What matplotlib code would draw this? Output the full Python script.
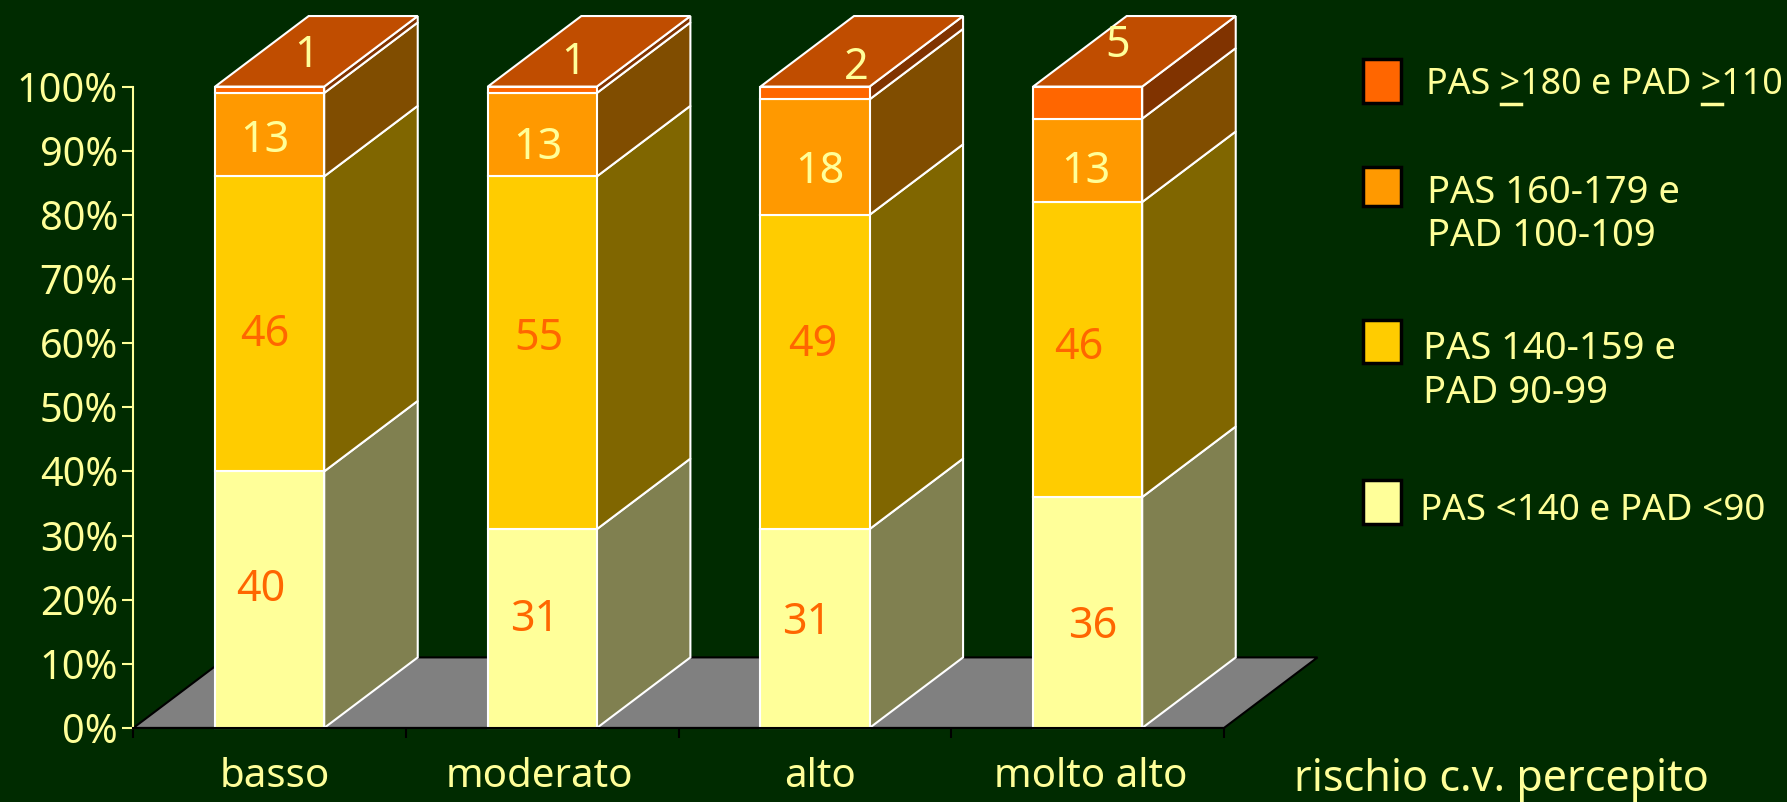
import matplotlib
matplotlib.use("Agg")
import matplotlib.pyplot as plt
from matplotlib.patches import Polygon, Rectangle

plt.rcParams['font.family'] = ['Noto Sans', 'DejaVu Sans']

# data
categories = ["basso", "moderato", "alto", "molto alto"]
s_lt140 = [40, 31, 31, 36]
s_140 = [46, 55, 49, 46]
s_160 = [13, 13, 18, 13]
s_180 = [1, 1, 2, 5]
series = [s_lt140, s_140, s_160, s_180]
y_ticks = list(range(0, 101, 10))
legend_labels = [["PAS >180 e PAD >110"],
                 ["PAS 160-179 e", "PAD 100-109"],
                 ["PAS 140-159 e", "PAD 90-99"],
                 ["PAS <140 e PAD <90"]]

# styles
W, H = 1787, 802
BG = "#002B00"
PALE = "#FFFF99"
front = ["#FFFF99", "#FFCC00", "#FF9900", "#FF6600"]
side = ["#808050", "#806600", "#804D00", "#803300"]
top = "#C04D00"
label_colors = ["#FF6600", "#FF6600", PALE, PALE]
bar_w = 0.40
dx, dy = 0.343, 11.0

# hand placed value labels, one row per series
lab_x = [[0.468, 1.471, 2.470, 3.519],
         [0.481, 1.488, 2.491, 3.469],
         [0.481, 1.484, 2.516, 3.494],
         [0.635, 1.613, 2.650, 3.611]]
lab_y = [[21.5, 16.9, 16.4, 15.8],
         [61.3, 60.6, 59.7, 59.2],
         [91.5, 90.4, 86.7, 86.7],
         [104.7, 103.6, 102.9, 106.4]]

fig = plt.figure(figsize=(W / 100, H / 100), dpi=100, facecolor=BG)
ax = fig.add_axes([117 / 1568, 65 / 704, 957 / 1568, 563 / 704], facecolor="none")
ax.set_xlim(0, 4)
ax.set_ylim(0, 100)

# floor
ax.add_patch(Polygon([(0, 0), (4, 0), (4 + dx, dy), (dx, dy)], closed=True,
                     facecolor="#808080", edgecolor="black", lw=1.5, clip_on=False, zorder=1))

# bars, side and top faces
for i in range(len(categories)):
    x0 = i + 0.5 - bar_w / 2
    x1 = x0 + bar_w
    base = 0
    for j, s in enumerate(series):
        v = s[i]
        ax.add_patch(Rectangle((x0, base), bar_w, v, facecolor=front[j], edgecolor="white",
                               lw=1.5, clip_on=False, zorder=3))
        ax.add_patch(Polygon([(x1, base), (x1 + dx, base + dy), (x1 + dx, base + v + dy), (x1, base + v)],
                             closed=True, facecolor=side[j], edgecolor="white", lw=1.5,
                             clip_on=False, zorder=2))
        base += v
    ax.add_patch(Polygon([(x0, base), (x1, base), (x1 + dx, base + dy), (x0 + dx, base + dy)],
                         closed=True, facecolor=top, edgecolor="white", lw=1.5, clip_on=False, zorder=2))

for j, s in enumerate(series):
    for i, v in enumerate(s):
        ax.text(lab_x[j][i], lab_y[j][i], str(v), color=label_colors[j], fontsize=31,
                ha="center", va="center", zorder=5)

# axes
for name in ["top", "right"]:
    ax.spines[name].set_visible(False)
ax.spines["left"].set_color(PALE)
ax.spines["left"].set_linewidth(1.5)
ax.spines["bottom"].set_color("black")
ax.spines["bottom"].set_linewidth(1.5)
ax.spines["bottom"].set_zorder(6)
ax.set_yticks(y_ticks)
ax.set_yticklabels([f"{t}%" for t in y_ticks], color=PALE, fontsize=28.5)
ax.tick_params(axis="y", color=PALE, length=8, width=1.5, pad=3)
ax.set_xticks(range(5))
ax.set_xticklabels([])
ax.tick_params(axis="x", color="black", length=7, width=1.5)
ax.set_xticks([0.52, 1.49, 2.52, 3.51], minor=True)
ax.set_xticklabels(categories, minor=True, color=PALE, fontsize=29)
ax.tick_params(axis="x", which="minor", length=0, pad=21)

fig.text(1294 / W, 1 - 780 / H, "rischio c.v. percepito", color=PALE, fontsize=31, va="center")

# legend, placed by hand in pixels
boxes = [(59, 103), (167, 206), (320, 363), (480, 524)]
text_x = [1426, 1427, 1423, 1420]
text_y = [[85], [193, 236], [349, 393], [511]]
text_size = [25.8, 27.5, 27.5, 26.5]
renderer = fig.canvas.get_renderer()
for k, (y0, y1) in enumerate(boxes):
    fig.add_artist(Rectangle((1363 / W, 1 - y1 / H), 38 / W, (y1 - y0) / H, transform=fig.transFigure,
                             facecolor=front[3 - k], edgecolor="black", lw=2.5))
    for line, yy in zip(legend_labels[k], text_y[k]):
        t = fig.text(text_x[k] / W, 1 - yy / H, line, color=PALE, fontsize=text_size[k], va="center")
        if k == 0:
            # the ">" signs are underlined in the original
            for pos in [line.index(">"), line.rindex(">")]:
                a = fig.text(0, 0, line[:pos], fontsize=text_size[k]).get_window_extent(renderer).width
                b = fig.text(0, 0, line[:pos + 1], fontsize=text_size[k]).get_window_extent(renderer).width
                for extra in fig.texts[-2:]:
                    extra.remove()
                fig.add_artist(plt.Line2D([(text_x[k] + a + 1) / W, (text_x[k] + b + 1) / W],
                                          [1 - (yy + 19) / H] * 2, color=PALE, lw=2.5,
                                          transform=fig.transFigure))

fig.savefig("out.png", dpi=100, facecolor=BG)
